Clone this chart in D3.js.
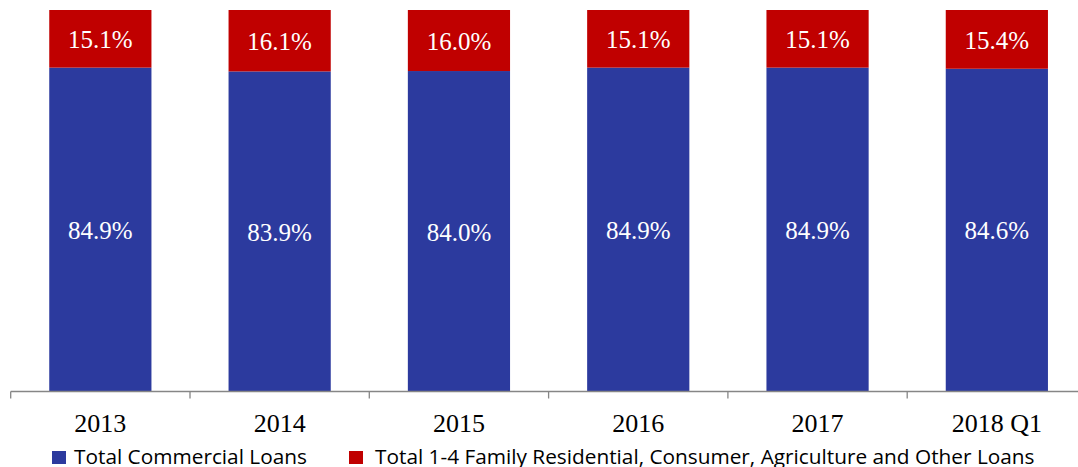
<!DOCTYPE html>
<html>
<head>
<meta charset="utf-8">
<script src="https://cdn.jsdelivr.net/npm/d3@7"></script>
<style>
  body { margin: 0; background: #fff; }
  .serif { font-family: "Liberation Serif", "Times New Roman", serif; }
  .sans { font-family: "Open Sans", sans-serif; }
</style>
</head>
<body>
<div id="wrapper"></div>
<script>
const years = ["2013", "2014", "2015", "2016", "2017", "2018 Q1"];
const commercial = [84.9, 83.9, 84.0, 84.9, 84.9, 84.6];
const otherLoans = [15.1, 16.1, 16.0, 15.1, 15.1, 15.4];
const seriesNames = ["Total Commercial Loans", "Total 1-4 Family Residential, Consumer, Agriculture and Other Loans"];
const colors = ["#2C3A9E", "#C00000"];

function buildPlot() {
    const dimension = { width: 1078, height: 467, top: 10, bottom: 391.5, left: 10.7, step: 179.3 };

    const svg = d3.select("#wrapper").append("svg")
        .attr("width", dimension.width)
        .attr("height", dimension.height);

    const data = years.map((y, i) => ({ year: y, commercial: commercial[i], other: otherLoans[i] }));
    const stack = d3.stack().keys(["commercial", "other"])(data);

    const xScaler = d3.scaleBand()
        .domain(years)
        .range([dimension.left, dimension.left + dimension.step * years.length])
        .paddingInner(0.43)
        .paddingOuter(0.215);

    const yScaler = d3.scaleLinear()
        .domain([0, 100])
        .range([dimension.bottom, dimension.top]);

    const layers = svg.append("g").selectAll("g")
        .data(stack)
        .join("g")
        .attr("fill", (d, i) => colors[i]);

    layers.selectAll("rect")
        .data(d => d)
        .join("rect")
        .attr("x", d => xScaler(d.data.year))
        .attr("width", xScaler.bandwidth())
        .attr("y", d => yScaler(d[1]))
        .attr("height", d => yScaler(d[0]) - yScaler(d[1]));

    // value labels in each segment
    layers.selectAll("text")
        .data(d => d)
        .join("text")
        .attr("class", "serif")
        .attr("x", d => xScaler(d.data.year) + xScaler.bandwidth() / 2)
        .attr("y", d => (yScaler(d[0]) + yScaler(d[1])) / 2)
        .attr("dy", "0.37em")
        .attr("text-anchor", "middle")
        .attr("fill", "#fff")
        .attr("font-size", 25)
        .text(d => (d[1] - d[0]).toFixed(1) + "%");

    // x axis
    const axisG = svg.append("g")
        .attr("transform", `translate(0,${dimension.bottom})`);
    axisG.append("line")
        .attr("x1", dimension.left).attr("x2", dimension.width)
        .attr("stroke", "#868686").attr("stroke-width", 1.3);
    const tickPos = years.map((d, i) => dimension.left + xScaler.step() * i);
    axisG.selectAll(".tick")
        .data(tickPos)
        .join("line")
        .attr("x1", d => d).attr("x2", d => d)
        .attr("y1", 0).attr("y2", 7)
        .attr("stroke", "#868686").attr("stroke-width", 1.3);
    axisG.selectAll(".lbl")
        .data(years)
        .join("text")
        .attr("class", "serif")
        .attr("x", d => xScaler(d) + xScaler.bandwidth() / 2)
        .attr("y", 40)
        .attr("text-anchor", "middle")
        .attr("fill", "#000")
        .attr("font-size", 26)
        .text(d => d);

    // legend
    const legendX = [52, 349];
    const legendGap = [22, 26];
    const legend = svg.append("g").selectAll("g")
        .data(seriesNames)
        .join("g")
        .attr("transform", (d, i) => `translate(${legendX[i]},451)`);
    legend.append("rect")
        .attr("width", 14).attr("height", 13)
        .attr("fill", (d, i) => colors[i]);
    legend.append("text")
        .attr("class", "sans")
        .attr("x", (d, i) => legendGap[i])
        .attr("y", 13)
        .attr("fill", "#000")
        .attr("font-size", 20.8)
        .text(d => d);
}
buildPlot();
</script>
</body>
</html>
